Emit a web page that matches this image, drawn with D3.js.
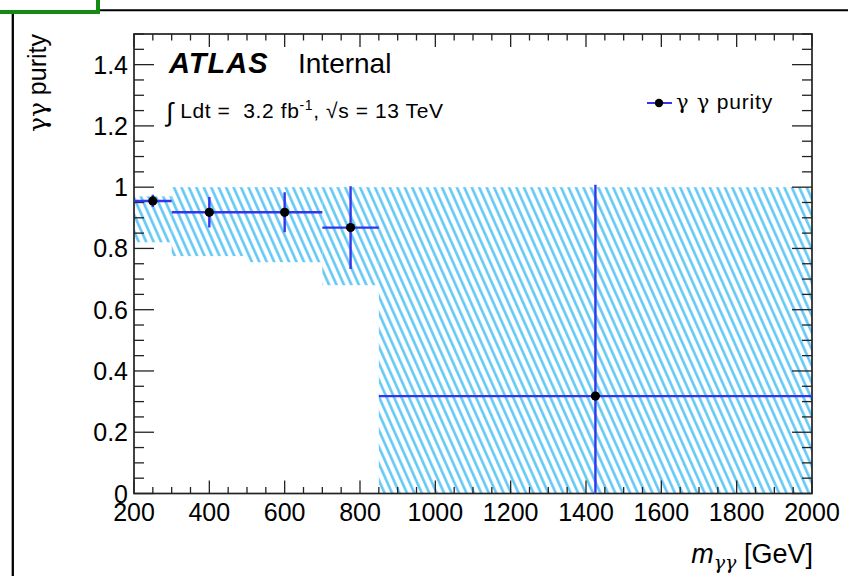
<!DOCTYPE html>
<html>
<head>
<meta charset="utf-8">
<script src="https://cdn.jsdelivr.net/npm/d3@7"></script>
<style>
  body { margin: 0; background: #fff; }
  text { font-family: "Liberation Sans", Arial, Helvetica, sans-serif; fill: #000; white-space: pre; }
  .greek { font-family: "DejaVu Serif", "Liberation Serif", serif; }
</style>
</head>
<body>
<div id="container"></div>
<script>
const WIDTH = 848;
const HEIGHT = 576;
const MARGIN = { TOP: 34, RIGHT: 36, BOTTOM: 82.5, LEFT: 134 };

const width = WIDTH - MARGIN.LEFT - MARGIN.RIGHT;
const height = HEIGHT - MARGIN.TOP - MARGIN.BOTTOM;

// data
const binEdges = [200, 300, 500, 700, 850, 2000];
const purity = [0.955, 0.918, 0.918, 0.868, 0.318];
const purityErr = [0.02, 0.05, 0.065, 0.135, 0.69];
const bandLow = [0.82, 0.775, 0.755, 0.68, 0];
const bandHigh = [0.97, 1.0, 1.0, 1.0, 1.0];

const xTicks = [200, 400, 600, 800, 1000, 1200, 1400, 1600, 1800, 2000];
const yTicks = [0, 0.2, 0.4, 0.6, 0.8, 1, 1.2, 1.4];

const bins = purity.map((p, i) => ({
  lo: binEdges[i], hi: binEdges[i + 1], mid: (binEdges[i] + binEdges[i + 1]) / 2,
  val: p, err: purityErr[i], bLo: bandLow[i], bHi: bandHigh[i]
}));

const svg = d3.select('#container')
  .append('svg')
    .attr('width', WIDTH)
    .attr('height', HEIGHT);

// page frame (green corner box + black lines)
svg.append('path')
  .attr('d', 'M0,12 H98 V0')
  .attr('fill', 'none').attr('stroke', '#138a13').attr('stroke-width', 4);
svg.append('line').attr('x1', 100).attr('x2', WIDTH).attr('y1', 10.3).attr('y2', 10.3)
  .attr('stroke', '#000').attr('stroke-width', 2);
svg.append('line').attr('x1', 12.8).attr('x2', 12.8).attr('y1', 14).attr('y2', HEIGHT)
  .attr('stroke', '#000').attr('stroke-width', 2.3);

const defs = svg.append('defs');
defs.append('pattern')
    .attr('id', 'hatch')
    .attr('patternUnits', 'userSpaceOnUse')
    .attr('width', 6.8)
    .attr('height', 20)
    .attr('patternTransform', 'rotate(-24)')
  .append('line')
    .attr('x1', 1.4).attr('x2', 1.4).attr('y1', 0).attr('y2', 20)
    .attr('stroke', '#5cc6f6').attr('stroke-width', 2.5);

defs.append('clipPath').attr('id', 'plotclip')
  .append('rect').attr('width', width).attr('height', height);

const g = svg.append('g')
  .attr('transform', `translate(${MARGIN.LEFT}, ${MARGIN.TOP})`);

const x = d3.scaleLinear().domain([200, 2000]).range([0, width]);
const y = d3.scaleLinear().domain([0, 1.5]).range([height, 0]);

// uncertainty band
g.selectAll('.band')
  .data(bins)
  .enter()
  .append('rect')
    .attr('class', 'band')
    .attr('x', d => x(d.lo))
    .attr('width', d => x(d.hi) - x(d.lo))
    .attr('y', d => y(d.bHi))
    .attr('height', d => y(d.bLo) - y(d.bHi))
    .attr('fill', 'url(#hatch)');

// ticks: bottom/top and left/right
const axisColor = '#222';
const xMinor = d3.range(200, 2001, 50);
const yMinor = d3.range(0, 1.501, 0.05);
const isMajorX = v => xTicks.includes(v);
const isMajorY = v => yTicks.some(t => Math.abs(t - v) < 1e-6);

const tickG = g.append('g').attr('stroke', axisColor).attr('stroke-width', 1.3);
xMinor.forEach(v => {
  const len = isMajorX(v) ? 13 : 6.5;
  tickG.append('line').attr('x1', x(v)).attr('x2', x(v)).attr('y1', height).attr('y2', height - len);
  tickG.append('line').attr('x1', x(v)).attr('x2', x(v)).attr('y1', 0).attr('y2', len);
});
yMinor.forEach(v => {
  const len = isMajorY(v) ? 20 : 10;
  tickG.append('line').attr('x1', 0).attr('x2', len).attr('y1', y(v)).attr('y2', y(v));
  tickG.append('line').attr('x1', width).attr('x2', width - len).attr('y1', y(v)).attr('y2', y(v));
});

// frame
g.append('rect')
  .attr('width', width).attr('height', height)
  .attr('fill', 'none').attr('stroke', axisColor).attr('stroke-width', 1.7);

// tick labels
g.selectAll('.xlab')
  .data(xTicks)
  .enter()
  .append('text')
    .attr('class', 'xlab')
    .attr('x', d => x(d))
    .attr('y', height + 27)
    .attr('text-anchor', 'middle')
    .style('font-size', '25px')
    .text(d => d);

g.selectAll('.ylab')
  .data(yTicks)
  .enter()
  .append('text')
    .attr('class', 'ylab')
    .attr('x', -6)
    .attr('y', d => y(d))
    .attr('dy', '0.36em')
    .attr('text-anchor', 'end')
    .style('font-size', '25px')
    .text(d => d3.format('~g')(d));

// axis titles
const yt = svg.append('text')
  .attr('transform', 'translate(46, 34) rotate(-90)')
  .attr('text-anchor', 'end')
  .style('font-size', '25px');
yt.append('tspan').attr('class', 'greek').text('γγ');
yt.append('tspan').text(' purity');

const xt = svg.append('text')
  .attr('x', MARGIN.LEFT + width + 1)
  .attr('y', 563)
  .attr('text-anchor', 'end')
  .style('font-size', '27px');
xt.append('tspan').style('font-style', 'italic').text('m');
xt.append('tspan').attr('class', 'greek').attr('dy', 6).style('font-size', '19px').style('font-style', 'italic').text('γγ');
xt.append('tspan').attr('dy', -6).text(' [GeV]');

// error bars + markers
const pts = g.append('g').attr('clip-path', 'url(#plotclip)');
const errColor = '#3535ee';
pts.selectAll('.hbar')
  .data(bins)
  .enter()
  .append('line')
    .attr('x1', d => x(d.lo)).attr('x2', d => x(d.hi))
    .attr('y1', d => y(d.val)).attr('y2', d => y(d.val))
    .attr('stroke', errColor).attr('stroke-width', 2.4);
pts.selectAll('.vbar')
  .data(bins)
  .enter()
  .append('line')
    .attr('x1', d => x(d.mid)).attr('x2', d => x(d.mid))
    .attr('y1', d => y(d.val - d.err)).attr('y2', d => y(d.val + d.err))
    .attr('stroke', errColor).attr('stroke-width', 2.4);
g.selectAll('.pt')
  .data(bins)
  .enter()
  .append('circle')
    .attr('cx', d => x(d.mid)).attr('cy', d => y(d.val))
    .attr('r', 4.6).attr('fill', '#000');

// ATLAS label
const atlas = svg.append('text').attr('x', 169).attr('y', 73);
atlas.append('tspan').style('font-size', '29px').style('font-weight', 'bold').style('font-style', 'italic')
  .style('letter-spacing', '1px').text('ATLAS');
atlas.append('tspan').attr('x', 298).style('font-size', '28px').text('Internal');

const lumi = svg.append('text').attr('x', 166).attr('y', 118).style('font-size', '21px')
  .style('letter-spacing', '0.6px');
lumi.append('tspan').style('font-size', '26px').attr('dy', 3).text('∫');
lumi.append('tspan').attr('dy', -3).text(' Ldt =  3.2 fb');
lumi.append('tspan').attr('dy', -8).style('font-size', '14px').text('-1');
lumi.append('tspan').attr('dy', 8).text(', √s = 13 TeV');

// legend
const leg = svg.append('g');
leg.append('line').attr('x1', 647).attr('x2', 672).attr('y1', 103).attr('y2', 103)
  .attr('stroke', errColor).attr('stroke-width', 2);
leg.append('circle').attr('cx', 659).attr('cy', 103).attr('r', 4.2).attr('fill', '#000');
const legText = leg.append('text').attr('x', 676).attr('y', 109).style('font-size', '21px')
  .style('letter-spacing', '0.8px');
legText.append('tspan').attr('class', 'greek').text('γ γ');
legText.append('tspan').text(' purity');
</script>
</body>
</html>
